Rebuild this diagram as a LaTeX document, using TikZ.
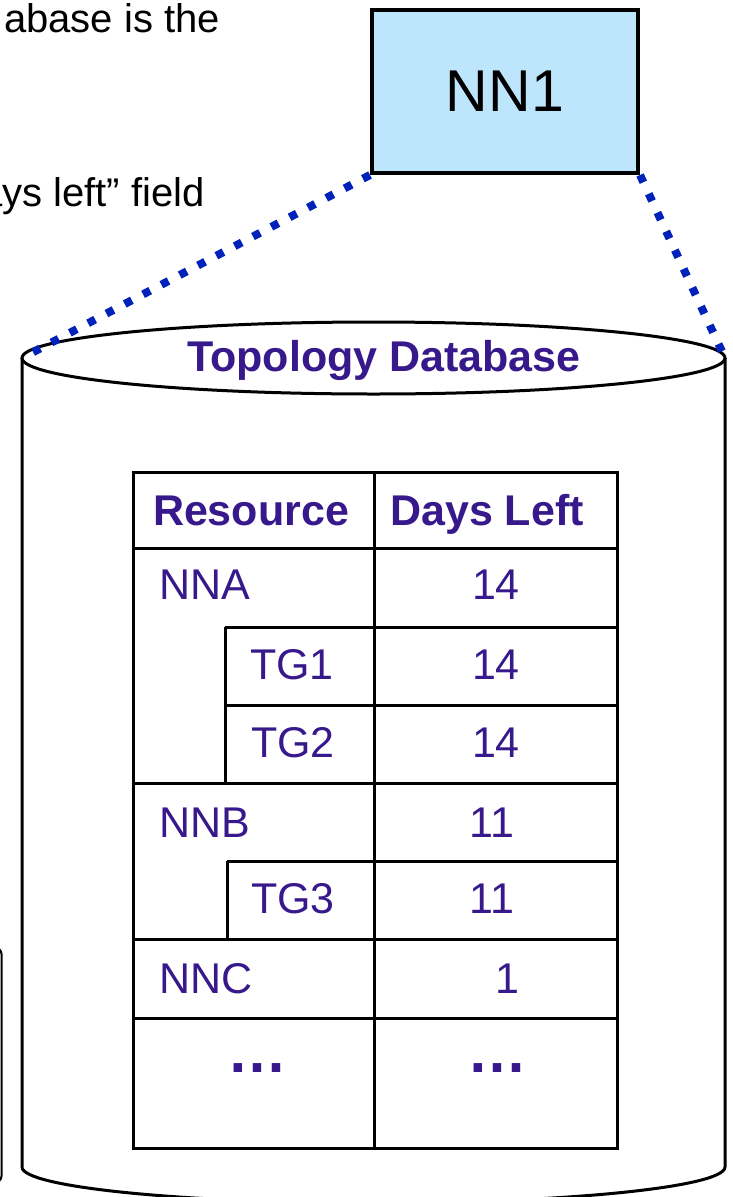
\documentclass[tikz,border=0pt]{standalone}
\usepackage{fontspec}
\setmainfont{Liberation Sans}
\definecolor{txtpurple}{RGB}{55,25,140}
\definecolor{dotblue}{RGB}{0,34,187}
\definecolor{nnfill}{RGB}{189,229,251}
\begin{document}
\begin{tikzpicture}[x=1pt,y=-1pt,
  cell/.style={font=\fontsize{43}{50}\selectfont, text=txtpurple, inner sep=0pt},
  hdr/.style={font=\fontsize{43}{50}\selectfont\bfseries, text=txtpurple, inner sep=0pt},
  dots/.style={font=\fontsize{60}{66}\selectfont\bfseries, text=txtpurple, inner sep=0pt},
  note/.style={font=\fontsize{40}{46}\selectfont, text=black, inner sep=0pt},
  grid/.style={line width=3pt, black},
  dotline/.style={line width=8pt, dotblue, dash pattern=on 8pt off 12.7pt},
  cyl/.style={line width=3pt, black}]
\useasboundingbox (0,0) rectangle (732,1197);
\clip (0,0) rectangle (732,1197);

% cropped note text at top left
\node[note, anchor=base east] (n1) at (220,32) {abase is the};
\node[note, anchor=base east] (n2) at (205,206) {ays left” field};

% partial box at the left edge
\draw[line width=2pt, rounded corners=6pt] (-60,948) -- (1.5,948) -- (1.5,1182) -- (-60,1182);

% NN1 box
\node[draw, line width=4pt, fill=nnfill, minimum width=266pt, minimum height=163pt,
      font=\fontsize{59}{66}\selectfont, inner sep=0pt] (nn1) at (505,91.5) {NN1};

% cylinder
\coordinate (cylL) at (22,358);
\coordinate (cylR) at (725,358);
\draw[cyl] (22,358) -- (22,1167) arc[start angle=180, end angle=360, x radius=351.5, y radius=-36] -- (725,358);
\draw[cyl] (373.5,358) ellipse[x radius=351.5, y radius=36];
\node[hdr, anchor=base] (title) at (384,371) {Topology Database};

% dotted connectors
\draw[dotline] (nn1.south west) -- (cylL);
\draw[dotline] (nn1.south east) -- (cylR);

% table grid
\draw[grid] (133,472) rectangle (617,1148);
\draw[grid] (374,472) -- (374,1148);
\foreach \yy in {548,783,939,1018} \draw[grid] (133,\yy) -- (617,\yy);
\foreach \yy in {627,705} \draw[grid] (225,\yy) -- (617,\yy);
\draw[grid] (225,627) -- (225,783);
\draw[grid] (227,861) -- (617,861);
\draw[grid] (227,861) -- (227,939);

% table texts
\node[hdr, anchor=base] (hres) at (251,525) {Resource};
\node[hdr, anchor=base] (hdays) at (487,525) {Days Left};
\node[cell, anchor=base west] (nna) at (159,599) {NNA};
\node[cell, anchor=base] (d1) at (496,599) {14};
\node[cell, anchor=base] (tg1) at (292,679) {TG1};
\node[cell, anchor=base] (d2) at (496,679) {14};
\node[cell, anchor=base] (tg2) at (293,757) {TG2};
\node[cell, anchor=base] (d3) at (496,757) {14};
\node[cell, anchor=base west] (nnb) at (159,837) {NNB};
\node[cell, anchor=base] (d4) at (492,837) {11};
\node[cell, anchor=base] (tg3) at (293,913) {TG3};
\node[cell, anchor=base] (d5) at (492,913) {11};
\node[cell, anchor=base west] (nnc) at (159,993) {NNC};
\node[cell, anchor=base] (d6) at (507,993) {1};
\node[dots, anchor=base] (e1) at (257,1072) {…};
\node[dots, anchor=base] (e2) at (497,1072) {…};
\end{tikzpicture}
\end{document}
